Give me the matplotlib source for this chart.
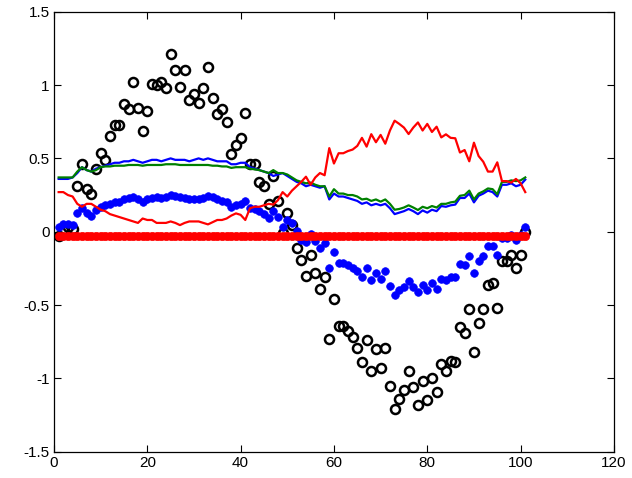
import numpy as np
import matplotlib
matplotlib.use("Agg")
import matplotlib.pyplot as plt

plt.rcParams['font.family'] = ['Liberation Sans', 'DejaVu Sans']
plt.rcParams['axes.unicode_minus'] = False

# sample index
x = np.arange(1, 102)

# black open circles
black_pts = [-0.03, 0.01, 0.03, 0.02, 0.31, 0.46, 0.29, 0.255, 0.43, 0.54,
             0.49, 0.65, 0.73, 0.73, 0.87, 0.84, 1.02, 0.845, 0.69, 0.82,
             1.01, 1.0, 1.02, 0.98, 1.21, 1.10, 0.99, 1.10, 0.90, 0.94,
             0.88, 0.98, 1.12, 0.91, 0.80, 0.84, 0.75, 0.53, 0.59, 0.64,
             0.81, 0.46, 0.46, 0.34, 0.31, 0.19, 0.38, 0.21, -0.01, 0.125,
             0.046, -0.11, -0.19, -0.30, -0.16, -0.28, -0.39, -0.31, -0.73, -0.46,
             -0.64, -0.64, -0.68, -0.72, -0.79, -0.89, -0.74, -0.95, -0.80, -0.93,
             -0.79, -1.05, -1.21, -1.14, -1.08, -0.95, -1.06, -1.18, -1.02, -1.15,
             -1.00, -1.09, -0.90, -0.95, -0.88, -0.89, -0.65, -0.69, -0.53, -0.82,
             -0.62, -0.53, -0.36, -0.35, -0.52, -0.20, -0.20, -0.16, -0.25, -0.16, 0.0]

# blue filled dots
blue_pts = [0.03, 0.05, 0.05, 0.046, 0.125, 0.16, 0.125, 0.11, 0.15, 0.17,
            0.18, 0.19, 0.20, 0.205, 0.22, 0.23, 0.24, 0.22, 0.20, 0.22,
            0.23, 0.24, 0.23, 0.24, 0.25, 0.245, 0.24, 0.23, 0.225, 0.225,
            0.225, 0.23, 0.245, 0.235, 0.22, 0.21, 0.20, 0.17, 0.18, 0.19,
            0.21, 0.16, 0.155, 0.14, 0.12, 0.095, 0.14, 0.10, 0.035, 0.08,
            0.057, 0.007, -0.057, -0.07, -0.016, -0.065, -0.11, -0.08, -0.245, -0.136,
            -0.21, -0.215, -0.23, -0.25, -0.27, -0.31, -0.25, -0.33, -0.28, -0.32,
            -0.27, -0.37, -0.43, -0.40, -0.38, -0.335, -0.375, -0.41, -0.36, -0.40,
            -0.35, -0.39, -0.32, -0.33, -0.31, -0.31, -0.22, -0.23, -0.165, -0.28,
            -0.20, -0.165, -0.095, -0.095, -0.16, -0.04, -0.04, -0.02, -0.057, -0.02, 0.03]

# red filled dots (flat)
red_pts = [-0.03] * 101

# blue line
blue_line = [0.36, 0.36, 0.36, 0.37, 0.40, 0.44, 0.42, 0.41, 0.43, 0.44,
             0.45, 0.46, 0.47, 0.47, 0.48, 0.48, 0.49, 0.48, 0.47, 0.48,
             0.49, 0.49, 0.48, 0.49, 0.50, 0.49, 0.49, 0.49, 0.48, 0.49,
             0.50, 0.49, 0.50, 0.49, 0.48, 0.48, 0.48, 0.46, 0.46, 0.47,
             0.47, 0.44, 0.43, 0.42, 0.41, 0.40, 0.38, 0.39, 0.40, 0.38,
             0.36, 0.34, 0.33, 0.31, 0.32, 0.31, 0.30, 0.31, 0.22, 0.26,
             0.24, 0.24, 0.23, 0.22, 0.21, 0.19, 0.20, 0.18, 0.19, 0.18,
             0.19, 0.16, 0.12, 0.13, 0.14, 0.155, 0.14, 0.12, 0.145, 0.13,
             0.15, 0.14, 0.175, 0.17, 0.18, 0.185, 0.23, 0.23, 0.26, 0.20,
             0.245, 0.26, 0.28, 0.27, 0.24, 0.32, 0.32, 0.33, 0.31, 0.32, 0.355]

# green line
green_line = [0.37, 0.37, 0.37, 0.37, 0.41, 0.44, 0.42, 0.41, 0.42, 0.44,
              0.445, 0.445, 0.45, 0.45, 0.45, 0.455, 0.455, 0.455, 0.45, 0.455,
              0.455, 0.455, 0.455, 0.46, 0.46, 0.46, 0.455, 0.455, 0.455, 0.455,
              0.455, 0.455, 0.455, 0.45, 0.45, 0.445, 0.445, 0.435, 0.44, 0.44,
              0.44, 0.43, 0.425, 0.42, 0.41, 0.40, 0.42, 0.40, 0.40, 0.39,
              0.37, 0.35, 0.34, 0.33, 0.335, 0.32, 0.31, 0.31, 0.24, 0.29,
              0.26, 0.26, 0.25, 0.25, 0.24, 0.22, 0.225, 0.21, 0.22, 0.205,
              0.22, 0.19, 0.15, 0.155, 0.165, 0.18, 0.165, 0.148, 0.17, 0.16,
              0.175, 0.165, 0.19, 0.19, 0.20, 0.205, 0.245, 0.25, 0.28, 0.22,
              0.26, 0.275, 0.295, 0.29, 0.255, 0.34, 0.34, 0.35, 0.345, 0.35, 0.37]

# red line
red_line = [0.27, 0.27, 0.25, 0.24, 0.19, 0.17, 0.19, 0.19, 0.17, 0.15,
            0.14, 0.12, 0.11, 0.10, 0.09, 0.08, 0.07, 0.06, 0.09, 0.08,
            0.08, 0.06, 0.06, 0.06, 0.07, 0.06, 0.045, 0.06, 0.07, 0.07,
            0.07, 0.06, 0.05, 0.065, 0.08, 0.08, 0.09, 0.11, 0.125, 0.115,
            0.08, 0.16, 0.17, 0.17, 0.18, 0.19, 0.185, 0.215, 0.27, 0.24,
            0.28, 0.31, 0.34, 0.375, 0.32, 0.37, 0.40, 0.385, 0.57, 0.465,
            0.535, 0.535, 0.55, 0.56, 0.585, 0.64, 0.58, 0.665, 0.61, 0.66,
            0.60, 0.69, 0.757, 0.735, 0.71, 0.666, 0.71, 0.745, 0.69, 0.735,
            0.68, 0.716, 0.643, 0.664, 0.64, 0.637, 0.54, 0.557, 0.48, 0.607,
            0.516, 0.477, 0.41, 0.41, 0.473, 0.345, 0.345, 0.335, 0.36, 0.33, 0.27]

fig = plt.figure(figsize=(6.32, 4.78), dpi=100)
ax = fig.add_axes([0.0854, 0.055, 0.886, 0.9205])

ax.plot(x, black_pts, 'o', mfc='none', mec='k', ms=6.5, mew=1.8)
ax.plot(x, blue_pts, 'o', color='b', ms=5.5, mew=0.5)
ax.plot(x, red_pts, 'o', color='r', ms=6, mew=0.5)
ax.plot(x, blue_line, color='b', lw=1.6)
ax.plot(x, green_line, color=(0, 0.5, 0), lw=1.6)
ax.plot(x, red_line, color='r', lw=1.6)

ax.set_xlim(0, 120)
ax.set_ylim(-1.5, 1.5)
ax.set_xticks(np.arange(0, 121, 20))
ax.set_yticks([-1.5, -1, -0.5, 0, 0.5, 1, 1.5])
ax.set_yticklabels(['-1.5', '-1', '-0.5', '0', '0.5', '1', '1.5'])
ax.tick_params(direction='in', top=True, right=True, length=5, width=0.8, labelsize=11, pad=3)
for s in ax.spines.values():
    s.set_linewidth(0.9)

fig.savefig('out.png', dpi=100)
